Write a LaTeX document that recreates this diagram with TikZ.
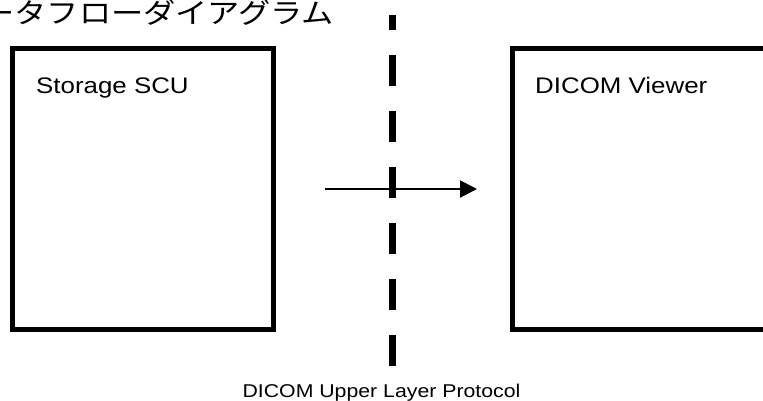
\documentclass[tikz,border=0pt]{standalone}
\usepackage{fontspec}
\setmainfont{Liberation Sans}
\newfontfamily\cjk{Noto Sans CJK JP}
\usetikzlibrary{arrows.meta}
\begin{document}
\begin{tikzpicture}[x=1pt, y=-1pt,
    box/.style={draw, line width=5pt, inner sep=0pt, minimum width=261pt, minimum height=281pt},
    lbl/.style={anchor=base west, inner sep=0pt, xscale=1.15, font=\fontsize{22.5}{27}\selectfont}]
  \useasboundingbox (0,0) rectangle (763,400);
  \clip (0,0) rectangle (763,400);
  \node [anchor=base west, inner sep=0pt, xscale=1.15, font=\cjk\fontsize{28}{32}\selectfont] (title) at (-50,23) {データフローダイアグラム};
  \node [box] (scu) at (143,189) {};
  \node [box] (viewer) at (643,189) {};
  \node [lbl] (scutext) at (36,93.5) {Storage SCU};
  \node [lbl] (viewertext) at (535,93.5) {DICOM Viewer};
  \draw [line width=2pt, -{Triangle[length=17pt, width=17pt]}, shorten <=48.5pt, shorten >=33pt] (scu.east) -- (viewer.west);
  \coordinate (divtop) at (392,15);
  \coordinate (divbot) at (392,366);
  \draw [line width=7pt, dash pattern=on 31pt off 25pt, dash phase=16pt] (divtop) -- (divbot);
  \node [anchor=base, inner sep=0pt, xscale=1.15, font=\fontsize{18.5}{22}\selectfont] (proto) at (381.5,397) {DICOM Upper Layer Protocol};
\end{tikzpicture}
\end{document}
